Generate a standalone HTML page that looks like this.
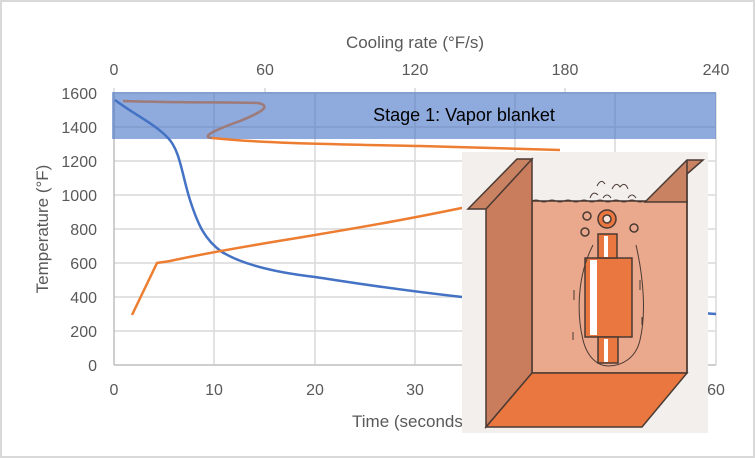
<!DOCTYPE html>
<html><head><style>
body{margin:0;background:#fff}
svg{display:block;font-family:"Liberation Sans",Calibri,sans-serif}
</style></head><body>
<svg width="755" height="458" viewBox="0 0 755 458" xmlns="http://www.w3.org/2000/svg">
<rect x="1" y="1" width="753" height="456" fill="#fff" stroke="#d9d9d9" stroke-width="2"/>
<g stroke="#d9d9d9" stroke-width="1.5">
<line x1="114" y1="93" x2="716" y2="93"/><line x1="114" y1="127" x2="716" y2="127"/>
<line x1="114" y1="161" x2="716" y2="161"/><line x1="114" y1="195" x2="716" y2="195"/>
<line x1="114" y1="229" x2="716" y2="229"/><line x1="114" y1="263" x2="716" y2="263"/>
<line x1="114" y1="297" x2="716" y2="297"/><line x1="114" y1="331" x2="716" y2="331"/>
<line x1="214" y1="93" x2="214" y2="365"/><line x1="315" y1="93" x2="315" y2="365"/>
<line x1="415" y1="93" x2="415" y2="365"/><line x1="515" y1="93" x2="515" y2="365"/>
<line x1="615" y1="93" x2="615" y2="365"/><line x1="716" y1="93" x2="716" y2="365"/>
<line x1="114" y1="88" x2="114" y2="93"/><line x1="265" y1="88" x2="265" y2="93"/>
<line x1="415" y1="88" x2="415" y2="93"/><line x1="565" y1="88" x2="565" y2="93"/>
</g>
<line x1="114" y1="365" x2="716" y2="365" stroke="#bfbfbf" stroke-width="1.5"/>
<line x1="114" y1="93" x2="114" y2="365" stroke="#bfbfbf" stroke-width="1.5"/>
<rect x="112" y="92" width="604" height="47" fill="#4472c4" fill-opacity="0.6"/>
<text x="464" y="121" font-size="18" text-anchor="middle" fill="#000">Stage 1: Vapor blanket</text>
<g font-size="16" fill="#595959">
<text x="97" y="99" text-anchor="end">1600</text><text x="97" y="133" text-anchor="end">1400</text>
<text x="97" y="167" text-anchor="end">1200</text><text x="97" y="201" text-anchor="end">1000</text>
<text x="97" y="235" text-anchor="end">800</text><text x="97" y="269" text-anchor="end">600</text>
<text x="97" y="303" text-anchor="end">400</text><text x="97" y="337" text-anchor="end">200</text>
<text x="97" y="371" text-anchor="end">0</text>
<text x="114" y="395" text-anchor="middle">0</text><text x="214" y="395" text-anchor="middle">10</text>
<text x="315" y="395" text-anchor="middle">20</text><text x="415" y="395" text-anchor="middle">30</text>
<text x="716" y="395" text-anchor="middle">60</text>
<text x="114" y="75" text-anchor="middle">0</text><text x="265" y="75" text-anchor="middle">60</text>
<text x="415" y="75" text-anchor="middle">120</text><text x="565" y="75" text-anchor="middle">180</text>
<text x="716" y="75" text-anchor="middle">240</text>
<text x="415" y="48" text-anchor="middle" font-size="17">Cooling rate (°F/s)</text>
<text x="352" y="427" font-size="17">Time (seconds)</text>
<text transform="translate(48,229) rotate(-90)" text-anchor="middle" font-size="17">Temperature (°F)</text>
</g>
<path d="M115,100 C135,115 155,124 168,138 C180,150 182,175 190,200 C198,225 205,240 222,252 C245,266 280,273 315,277 C355,283 390,289 462,297 L716,314" fill="none" stroke="#4472c4" stroke-width="2.5"/>
<path d="M132,315 L157,263 C162,262 165,262 170,261 C220,250 280,241 315,235 C380,224 420,217 500,200" fill="none" stroke="#ed7d31" stroke-width="2.5"/>
<path d="M212,138 C260,143 320,144 420,146 L560,150" fill="none" stroke="#ed7d31" stroke-width="2.5"/>
<path d="M123,101 C180,103 230,102 258,103 C272,106 262,112 240,121 C215,130 200,137 212,138" fill="none" stroke="#9e7a78" stroke-width="2.5"/>
<!-- inset illustration -->
<rect x="462" y="152" width="246" height="281" fill="#f3efec"/>
<g stroke="#4a3a33" stroke-width="1.5">
<rect x="532" y="201" width="155" height="172" fill="#eaa88c"/>
<polygon points="486,205 532,159 532,373 486,427" fill="#c97d5c"/>
<polygon points="468,209 517,159 532,159 486,209" fill="#c98262"/>
<polygon points="645,202 687,160 703,160 687,174 687,202" fill="#c98262"/>
<line x1="687" y1="160" x2="687" y2="373"/>
<polygon points="532,373 687,373 642,427 486,427" fill="#e9773f"/>
<rect x="585" y="258" width="47" height="79" fill="#e9773f"/>
<rect x="598" y="234" width="19" height="24" fill="#e9773f"/>
<rect x="598" y="337" width="20" height="26" fill="#e9773f"/>
<circle cx="607" cy="219" r="9" fill="#e9773f"/>
<circle cx="607" cy="219" r="4" fill="#f8e4d8"/>
<circle cx="587" cy="216" r="4" fill="none"/><circle cx="585" cy="232" r="4" fill="none"/><circle cx="634" cy="228" r="4" fill="none"/>
</g>
<rect x="590" y="260" width="7" height="75" fill="#fff"/>
<rect x="604" y="236" width="4" height="21" fill="#fff"/>
<rect x="604" y="339" width="4" height="23" fill="#fff"/>
<path d="M532,201 q4,-2 8,0 t8,0 t8,0 t8,0 t8,0 t8,0 t8,0 t8,0 t8,0 t8,0 t8,0 t8,0 t8,0 t8,0" fill="none" stroke="#4a3a33" stroke-width="1"/>
<path d="M590,198 q3,-8 8,-3 M597,186 q4,-8 8,-2 M612,189 q4,-8 8,-2 q5,-6 8,2 M603,198 q4,-6 8,0 M628,198 q4,-6 8,0" fill="none" stroke="#4a3a33" stroke-width="1"/>
<path d="M593,245 C575,280 578,320 583,340 C588,360 600,366 608,366 C622,366 636,358 640,340 C646,315 644,280 636,245" fill="none" stroke="#4a3a33" stroke-width="1"/>
<path d="M574,300 v-10 M640,290 v-10 M573,340 v-8 M642,325 v-8" stroke="#4a3a33" stroke-width="1"/>
</svg>
</body></html>
